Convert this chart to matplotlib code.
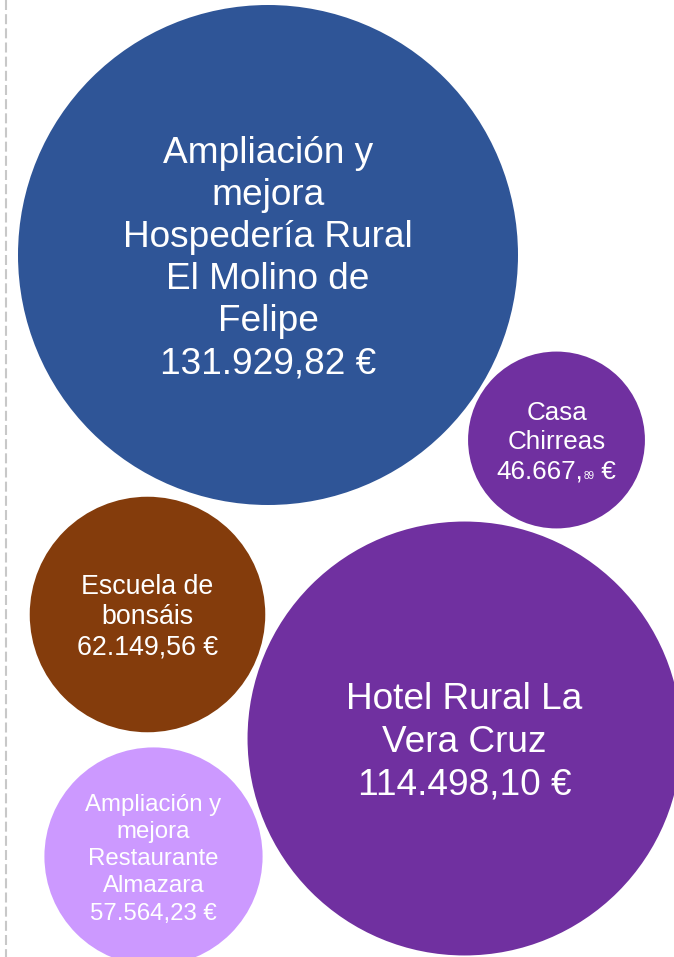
import matplotlib
matplotlib.use("Agg")
import matplotlib.pyplot as plt
from matplotlib.patches import Circle

plt.rcParams['font.family'] = ['Liberation Sans', 'DejaVu Sans']
plt.rcParams['lines.scale_dashes'] = False

# Data
names = [
    ["Ampliación y", "mejora", "Hospedería Rural", "El Molino de", "Felipe"],
    ["Casa", "Chirreas"],
    ["Escuela de", "bonsáis"],
    ["Hotel Rural La", "Vera Cruz"],
    ["Ampliación y", "mejora", "Restaurante", "Almazara"],
]
values = [131929.82, 46667.89, 62149.56, 114498.10, 57564.23]
value_labels = ["131.929,82 €", "46.667,89 €", "62.149,56 €", "114.498,10 €", "57.564,23 €"]
# bubble centres (layout positions, pixel space)
pos_x = [268, 556.5, 147.5, 464.5, 153.5]
pos_y = [255, 440, 614.5, 738.5, 856.5]
colors = ["#2F5597", "#7030A0", "#843C0C", "#7030A0", "#CC99FF"]
font_px = [37, 26, 26.7, 37, 24]
line_gap = [42, 29.5, 30.5, 42.5, 27.2]

W, H = 674, 957
fig = plt.figure(figsize=(W / 100, H / 100), dpi=100)
ax = fig.add_axes([0, 0, 1, 1])
ax.set_xlim(0, W)
ax.set_ylim(H, 0)
ax.set_aspect('equal')
ax.axis('off')

# dashed left border
ax.plot([6, 6], [0, H], color="#C8C8C8", lw=1.5, dashes=(7.2, 3.0))

scale = 250.0 / max(values)
for i, v in enumerate(values):
    ax.add_patch(Circle((pos_x[i], pos_y[i]), v * scale, facecolor=colors[i],
                        edgecolor='none', zorder=2))

fig.canvas.draw()
renderer = fig.canvas.get_renderer()

for i in range(len(values)):
    lines = names[i] + [value_labels[i]]
    n = len(lines)
    fs = font_px[i] * 0.72
    for j, line in enumerate(lines):
        yc = pos_y[i] + (j - (n - 1) / 2) * line_gap[i]
        yb = yc + 0.36 * font_px[i]
        if i == 1 and j == n - 1:
            parts = ["46.667,", "89", " €"]
            sizes = [fs, fs * 0.38, fs]
            txts = [ax.text(0, yb, p, fontsize=s, color='white', ha='left',
                            va='baseline', zorder=3) for p, s in zip(parts, sizes)]
            fig.canvas.draw()
            widths = [t.get_window_extent(renderer).width for t in txts]
            x0 = pos_x[i] - sum(widths) / 2
            for t, w in zip(txts, widths):
                t.set_x(x0)
                x0 += w
        else:
            ax.text(pos_x[i], yb, line, fontsize=fs, color='white', ha='center',
                    va='baseline', zorder=3)

fig.savefig("out.png", dpi=100)
